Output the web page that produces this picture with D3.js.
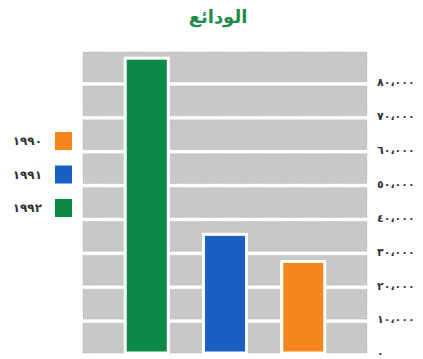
<!DOCTYPE html>
<html><head><meta charset="utf-8">
<script src="https://cdn.jsdelivr.net/npm/d3@7"></script>
<style>html,body{margin:0;padding:0;background:#fff;}svg{display:block;}</style>
</head><body>
<script>
const title = "الودائع";
const categories = ["١٩٩٢","١٩٩١","١٩٩٠"];
const values = [87000, 35000, 27000];
const colors = ["#0b8a48","#1a5fc2","#f7861d"];
const legendOrder = ["١٩٩٠","١٩٩١","١٩٩٢"];
const tickValues = [0,10000,20000,30000,40000,50000,60000,70000,80000];
const tickLabels = ["٠","١٠،٠٠٠","٢٠،٠٠٠","٣٠،٠٠٠","٤٠،٠٠٠","٥٠،٠٠٠","٦٠،٠٠٠","٧٠،٠٠٠","٨٠،٠٠٠"];
const bandValues = [0,10000,20000,30000,40000,50000,60000,70000,80000];

const W=423,H=359;
const svg=d3.select("body").append("svg").attr("width",W).attr("height",H);

const x=d3.scaleBand().domain(categories).range([83,367]).paddingInner(0.45).paddingOuter(0.54);
const y=d3.scaleLinear().domain([0,90000]).range([353,48]);
const color=d3.scaleOrdinal().domain(categories).range(colors);

// background bands
svg.append("g").selectAll("rect").data(bandValues).join("rect")
  .attr("x",x.range()[0]).attr("width",x.range()[1]-x.range()[0])
  .attr("y",d=>y(d+10000)+4).attr("height",d=>y(d)-y(d+10000)-4)
  .attr("fill","#c8c8c8").attr("stroke","#a8a8a8").attr("stroke-width",0.7)
  .attr("stroke-dasharray","1,1.5");

// bars
svg.append("g").selectAll("rect").data(categories).join("rect")
  .attr("x",d=>x(d)).attr("width",x.bandwidth())
  .attr("y",(d,i)=>y(values[i])).attr("height",(d,i)=>y(0)-y(values[i]))
  .attr("fill",d=>color(d)).attr("stroke","#fff").attr("stroke-width",3);

// tick labels
const axis=d3.axisRight(y).tickValues(tickValues).tickSize(0).tickPadding(0)
  .tickFormat((d,i)=>tickLabels[i]);
const ag=svg.append("g").attr("transform","translate(377,0)").call(axis);
ag.select(".domain").remove();
ag.selectAll("text").attr("font-family","DejaVu Sans").attr("font-weight","bold")
  .attr("font-size",11).attr("fill","#333").attr("x",0).attr("dy","0.35em")
  .attr("letter-spacing",1.6).attr("direction","ltr");

// legend
const lg=svg.append("g");
legendOrder.forEach((c,i)=>{
  const yy=132+i*33.5;
  lg.append("rect").attr("x",55).attr("y",yy).attr("width",17).attr("height",18).attr("fill",color(c));
  lg.append("text").attr("x",42).attr("y",yy+9).attr("dy","0.35em").attr("text-anchor","end")
    .attr("font-family","DejaVu Sans").attr("font-weight","bold").attr("font-size",12)
    .attr("fill","#333").attr("direction","ltr").text(c);
});

// title
svg.append("text").attr("x",218).attr("y",23).attr("text-anchor","middle")
  .attr("font-family","DejaVu Sans").attr("font-weight","bold").attr("font-size",18)
  .attr("fill","#1d8a4a").text(title);
</script>
</body></html>
